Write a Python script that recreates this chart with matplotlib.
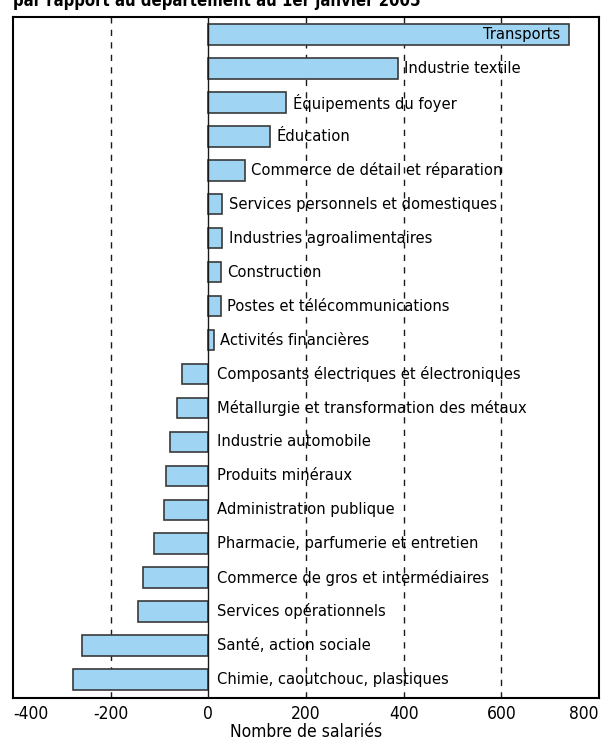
import matplotlib
matplotlib.use("Agg")
import matplotlib.pyplot as plt

# Variation du nombre de salariés par secteur
secteurs = [
    "Transports", "Industrie textile", "Équipements du foyer", "Éducation",
    "Commerce de détail et réparation", "Services personnels et domestiques",
    "Industries agroalimentaires", "Construction", "Postes et télécommunications",
    "Activités financières", "Composants électriques et électroniques",
    "Métallurgie et transformation des métaux", "Industrie automobile",
    "Produits minéraux", "Administration publique", "Pharmacie, parfumerie et entretien",
    "Commerce de gros et intermédiaires", "Services opérationnels",
    "Santé, action sociale", "Chimie, caoutchouc, plastiques",
]
salaries = [738, 388, 160, 127, 75, 29, 29, 26, 26, 12,
            -53, -64, -78, -86, -90, -111, -133, -144, -259, -278]
xticks = [-400, -200, 0, 200, 400, 600, 800]

plt.rcParams["font.family"] = ["DejaVu Sans"]
plt.rcParams["font.stretch"] = "condensed"

fig = plt.figure(figsize=(6.03, 7.42), dpi=100)
ax = fig.add_axes([13 / 603, 44 / 742, 586 / 603, 681 / 742])

y = list(range(len(secteurs)))
ax.barh(y, salaries, height=0.6, color="#9fd5f2", edgecolor="#3a3a3a", linewidth=1.2, zorder=3)

for g in [-200, 200, 400, 600]:
    ax.axvline(g, color="#1a1a1a", linestyle=(0, (4.5, 4.5)), linewidth=1, zorder=1)
ax.axvline(0, color="#1a1a1a", linewidth=1, zorder=4)

for i, (s, v) in enumerate(zip(secteurs, salaries)):
    if i == 0:
        ax.annotate(s, (v, i), xytext=(-6, 0), textcoords="offset points",
                    ha="right", va="center", fontsize=11.8, zorder=5)
    elif v > 0:
        ax.annotate(s, (v, i), xytext=(4.5, 0), textcoords="offset points",
                    ha="left", va="center", fontsize=11.8, zorder=5)
    else:
        ax.annotate(s, (0, i), xytext=(6, 0), textcoords="offset points",
                    ha="left", va="center", fontsize=11.8, zorder=5)

ax.set_xlim(-400, 800)
ax.set_ylim(len(secteurs) - 0.5 + 0.05, -0.5 - 0.02)
ax.set_yticks([])
ax.set_xticks(xticks)
labels = ax.set_xticklabels([str(t) for t in xticks], fontsize=12.5)
labels[0].set_ha("left")
labels[-1].set_ha("right")
ax.tick_params(axis="x", length=0, pad=5)
for sp in ax.spines.values():
    sp.set_linewidth(1.5)
ax.set_xlabel("Nombre de salariés", fontsize=12.5, labelpad=0)

fig.text(13 / 603, 1 - 6.5 / 742, "par rapport au département au 1er janvier 2005",
         fontsize=12, fontweight="bold", va="baseline", ha="left")

fig.savefig("out.png", dpi=100)
